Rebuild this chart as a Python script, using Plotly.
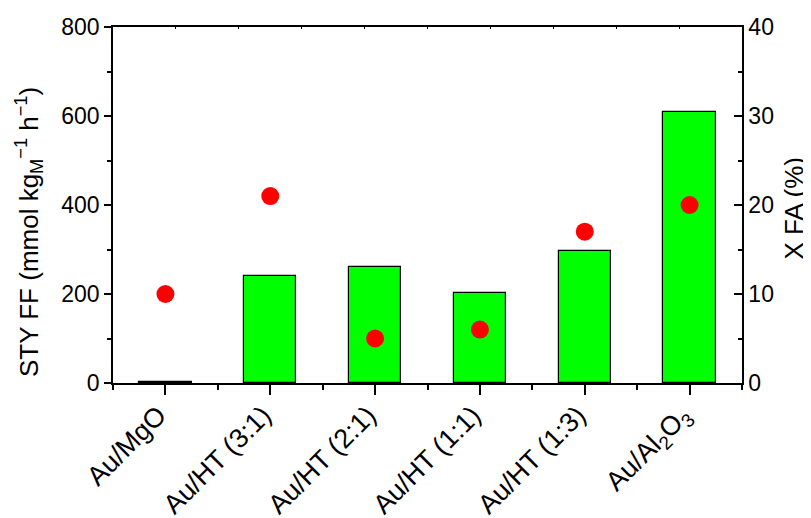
import plotly.graph_objects as go

categories = ["Au/MgO", "Au/HT (3:1)", "Au/HT (2:1)", "Au/HT (1:1)", "Au/HT (1:3)", "Au/Al<sub>2</sub>O<sub>3</sub>"]
sty_ff = [3, 240, 261, 203, 296, 608]
x_fa = [10, 21, 5, 6, 17, 20]

xpos = list(range(len(categories)))
FONT = "Liberation Sans, Arial, sans-serif"

fig = go.Figure()
fig.add_trace(go.Bar(
    x=xpos, y=sty_ff, width=0.5,
    marker=dict(color="#00FF00", line=dict(color="#000000", width=1.2)),
    yaxis="y", xaxis="x", showlegend=False,
))
fig.add_trace(go.Scatter(
    x=xpos, y=x_fa, mode="markers",
    marker=dict(color="#FF0000", size=18, line=dict(width=0)),
    yaxis="y2", xaxis="x", showlegend=False,
))
fig.add_trace(go.Scatter(x=[0], y=[0], xaxis="x2", yaxis="y", mode="markers",
                         marker=dict(opacity=0), showlegend=False, hoverinfo="skip"))

fig.update_layout(
    width=803, height=510,
    margin=dict(l=105, r=69, t=19, b=135),
    paper_bgcolor="white", plot_bgcolor="white",
    font=dict(family=FONT, size=22, color="black"),
    bargap=0,
    xaxis=dict(
        range=[-0.5, 5.5], tickmode="array", tickvals=xpos, ticktext=categories,
        tickangle=-45, ticks="outside", ticklen=10, tickwidth=1.5, tickcolor="black",
        minor=dict(tick0=0.5, dtick=1, ticks="outside", ticklen=5, tickwidth=1.5, tickcolor="black"),
        showline=True, linecolor="black", linewidth=1.5, showgrid=False, zeroline=False,
        tickfont=dict(size=27), automargin=False, ticklabelshift=-7, ticklabelstandoff=-6,
    ),
    xaxis2=dict(
        overlaying="x", side="top", range=[0, 10], dtick=1, ticks="inside", ticklen=2,
        tickwidth=1, tickcolor="black", showticklabels=False, showline=True,
        linecolor="black", linewidth=1.5, showgrid=False, zeroline=False, automargin=False,
    ),
    yaxis=dict(
        range=[0, 800], dtick=200, ticks="outside", ticklen=7, tickwidth=1.5, tickcolor="black",
        minor=dict(dtick=100, ticks="outside", ticklen=4, tickwidth=1.5, tickcolor="black"),
        showline=True, linecolor="black", linewidth=1.5, showgrid=False, zeroline=False,
        tickfont=dict(size=23), automargin=False,
    ),
    yaxis2=dict(
        overlaying="y", side="right", range=[0, 40], dtick=10, ticks="inside", ticklen=8,
        tickwidth=1.5, tickcolor="black",
        minor=dict(dtick=5, ticks="inside", ticklen=4, tickwidth=1.5, tickcolor="black"),
        showline=True, linecolor="black", linewidth=1.5, showgrid=False, zeroline=False,
        tickfont=dict(size=23), automargin=False,
    ),
    annotations=[
        dict(text="STY FF (mmol kg<sub>M</sub><sup>−1</sup> h<sup>−1</sup>)",
             xref="paper", yref="paper", x=-0.1335, y=0.424, textangle=-90,
             xanchor="center", yanchor="middle", showarrow=False, font=dict(size=26)),
        dict(text="X FA (%)",
             xref="paper", yref="paper", x=1.082, y=0.4916, textangle=-90,
             xanchor="center", yanchor="middle", showarrow=False, font=dict(size=26)),
    ],
)

fig.write_html("out.html")
